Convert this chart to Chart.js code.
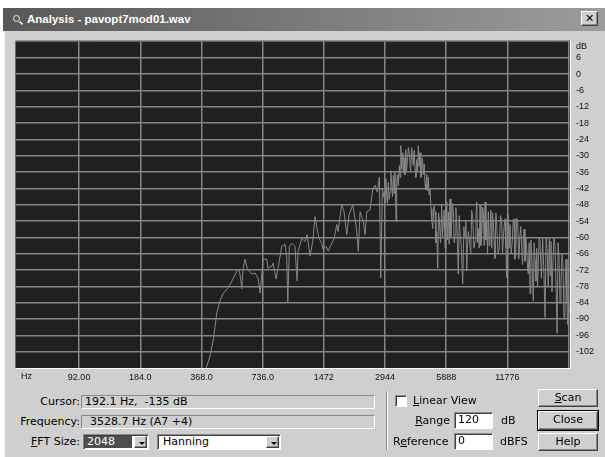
<!DOCTYPE html>
<html>
<head>
<meta charset="utf-8">
<title>Analysis - pavopt7mod01.wav</title>
<script src="https://cdn.jsdelivr.net/npm/chart.js@4/dist/chart.umd.min.js"></script>
<style>
    body {
        margin: 0;
        width: 605px;
        height: 457px;
        overflow: hidden;
        background: #fff;
        position: relative;
        font: 11px "DejaVu Sans", sans-serif;
        color: #000;
    }
    .abs { position: absolute; white-space: nowrap; }
    #win {
        position: absolute;
        left: 3px;
        top: 8px;
        width: 602px;
        height: 449px;
        background: #cfcfcf;
        border-left: 2px solid #f4f4f4;
    }
    #titlebar {
        position: absolute;
        left: 3px;
        top: 8px;
        width: 602px;
        height: 23px;
        background: linear-gradient(to right, #585858, #9c9c9c);
        color: #fff;
        font: bold 11.5px "Liberation Sans", Arial, sans-serif;
        line-height: 23px;
    }
    #titlebar .text { position: absolute; left: 24px; top: 0; }
    #titlebar .icon {
        position: absolute;
        left: 10px;
        top: 7px;
        width: 5px;
        height: 5px;
        border: 1.5px solid #e8e8e8;
        border-radius: 50%;
    }
    #titlebar .handle {
        position: absolute;
        left: 16px;
        top: 14px;
        width: 4px;
        height: 2px;
        background: #e8e8e8;
        transform: rotate(45deg);
    }
    .raised {
        background: #cfcfcf;
        border: 1px solid;
        border-color: #fff #404040 #404040 #fff;
        box-shadow: inset -1px -1px 0 #8a8a8a;
        box-sizing: border-box;
        text-align: center;
    }
    .sunken {
        border: 1px solid;
        border-color: #8a8a8a #fff #fff #8a8a8a;
        box-shadow: inset 1px 1px 0 #404040;
        box-sizing: border-box;
        background: #fff;
    }
    .static {
        border: 1px solid;
        border-color: #8a8a8a #fff #fff #8a8a8a;
        box-sizing: border-box;
        background: #cfcfcf;
        line-height: 12px;
    }
    .lbl { line-height: 14px; }
    .right { text-align: right; }
    u { text-decoration: underline; }
    .arrow {
        position: absolute;
        left: 4px;
        top: 5px;
        width: 0;
        height: 0;
        border-left: 3px solid transparent;
        border-right: 3px solid transparent;
        border-top: 3px solid #000;
    }
    #plot { position: absolute; left: 0; top: 30px; }
</style>
</head>
<body>
<div id="win"></div>
<div id="titlebar">
    <div class="icon"></div>
    <div class="handle"></div>
    <div class="text">Analysis - pavopt7mod01.wav</div>
    <div class="abs raised" style="left:578px;top:3px;width:17px;height:15px;color:#000;font:bold 11px 'DejaVu Sans';line-height:13px;">✕</div>
</div>

<canvas id="plot" width="605" height="360"></canvas>

<!-- readouts -->
<div class="abs lbl right" style="left:0;top:395px;width:80px;">Cursor:</div>
<div class="abs static" style="left:81px;top:395px;width:294px;height:14px;padding-left:3px;">192.1 Hz,&nbsp;&nbsp;-135 dB</div>
<div class="abs lbl right" style="left:0;top:415px;width:80px;">Frequency:</div>
<div class="abs static" style="left:81px;top:415px;width:294px;height:14px;padding-left:8px;">3528.7 Hz (A7 +4)</div>
<div class="abs lbl right" style="left:0;top:435px;width:80px;"><u>F</u>FT Size:</div>

<!-- FFT size combo -->
<div class="abs sunken" style="left:83px;top:434px;width:66px;height:16px;">
    <div class="abs" style="left:1px;top:1px;width:47px;height:12px;background:#4e4e4e;color:#fff;line-height:12px;padding-left:2px;box-sizing:border-box;">2048</div>
    <div class="abs raised" style="left:50px;top:1px;width:13px;height:12px;"><div class="arrow"></div></div>
</div>
<!-- window combo -->
<div class="abs sunken" style="left:157px;top:434px;width:124px;height:16px;">
    <div class="abs" style="left:5px;top:1px;line-height:12px;">Hanning</div>
    <div class="abs raised" style="left:108px;top:1px;width:13px;height:12px;"><div class="arrow"></div></div>
</div>

<!-- separator -->
<div class="abs" style="left:386px;top:391px;width:1px;height:59px;background:#8a8a8a;border-right:1px solid #fff;"></div>

<div class="abs sunken" style="left:395px;top:395px;width:12px;height:12px;"></div>
<div class="abs lbl" style="left:413px;top:394px;"><u>L</u>inear View</div>
<div class="abs lbl right" style="left:400px;top:414px;width:50px;"><u>R</u>ange</div>
<div class="abs sunken" style="left:454px;top:412px;width:39px;height:17px;line-height:14px;padding-left:3px;">120</div>
<div class="abs lbl" style="left:501px;top:414px;">dB</div>
<div class="abs lbl" style="left:393px;top:435px;">R<u>e</u>ference</div>
<div class="abs sunken" style="left:454px;top:433px;width:39px;height:17px;line-height:14px;padding-left:3px;">0</div>
<div class="abs lbl" style="left:500px;top:435px;">dBFS</div>

<!-- buttons -->
<div class="abs raised" style="left:538px;top:389px;width:60px;height:18px;line-height:15px;"><u>S</u>can</div>
<div class="abs raised" style="left:538px;top:411px;width:60px;height:19px;line-height:16px;outline:1px solid #000;">Close</div>
<div class="abs raised" style="left:538px;top:433px;width:60px;height:18px;line-height:15px;">Help</div>

<script>
// Spectrum of pavopt7mod01.wav, FFT 2048, Hanning window
const freqHz = [
    388, 405, 420, 429, 437, 454, 470, 497, 526, 549,
    563, 574, 581, 590, 603, 617, 651, 675, 698, 715,
    729, 739, 771, 782, 816, 828, 857, 876, 914, 949,
    967, 978, 996, 1023, 1062, 1086, 1099, 1147, 1189, 1217,
    1259, 1298, 1332, 1363, 1394, 1437, 1459, 1509, 1544, 1611,
    1653, 1704, 1728, 1803, 1850, 1908, 1958, 2041, 2096, 2136,
    2175, 2218, 2302, 2348, 2394, 2484, 2562, 2629, 2698, 2760,
    2804, 2856,
    2944, 2972, 3000, 3028, 3056, 3085, 3115, 3145, 3176, 3205,
    3235, 3266, 3297, 3335, 3360, 3385, 3420, 3462, 3490, 3518,
    3558, 3598, 3625, 3651, 3686, 3722, 3756, 3790, 3833, 3877,
    3930, 3983, 4020, 4056, 4095, 4135, 4175, 4216, 4254, 4292,
    4333, 4375, 4417, 4459, 4500, 4542, 4586, 4631, 4676, 4722,
    4765, 4808, 4854, 4900, 4957, 5005, 5053, 5120, 5187, 5237,
    5287, 5347, 5395, 5444, 5520, 5594, 5646, 5699, 5754, 5809,
    5865, 5921, 5975, 6030, 6090, 6147, 6207, 6267, 6325, 6383,
    6444, 6505, 6568, 6631, 6692, 6753, 6820, 6884, 6990, 7097,
    7190, 7285, 7355, 7426, 7490, 7561, 7665, 7770, 7860, 7951,
    8057, 8163, 8242, 8322, 8398, 8474, 8557, 8640, 8722, 8805,
    8885, 8966, 9052, 9139, 9227, 9315, 9400, 9485, 9576, 9667,
    9760, 9855, 9945, 10036, 10133, 10231, 10330, 10430, 10590, 10745,
    10890, 11040, 11140, 11240, 11350, 11463, 11575, 11685, 11790, 11896,
    12010, 12128, 12290, 12447, 12570, 12694, 12820, 12942, 13090, 13236,
    13400, 13578, 13710, 13849, 13970, 14096, 14230, 14367, 14510, 14649,
    14780, 14920, 15070, 15215, 15360, 15509, 15650, 15792, 15945, 16098,
    16260, 16416, 16560, 16710, 16870, 17040, 17300, 17558, 17790, 18029,
    18260, 18500, 18710, 18924, 19100, 19289, 19510, 19736, 19960, 20196,
    20430, 20667, 20900, 21138, 21370, 21610, 21860, 22115, 22360, 22605,
    22870, 23130, 23300, 23500, 23800
];

const levelDb = [
    -108, -103.8, -97.8, -92.9, -88, -83.3, -80.7, -78.5, -75.3, -72.4,
    -71.7, -75.3, -78.9, -71.3, -68, -71.3, -73.5, -73.1, -74.9, -80.4,
    -73.5, -68, -68, -71.3, -70.6, -69.5, -75.3, -71.3, -63.3, -62.6,
    -67.7, -84, -63.3, -62.2, -63.3, -76, -65.1, -60.4, -61.5, -59,
    -66.9, -61.5, -52.4, -56.8, -60.4, -62.2, -64.4, -63.3, -65.1, -62.2,
    -60.4, -55.3, -57.9, -47.7, -50.6, -59, -51.7, -48.1, -53.2, -57.9,
    -65.1, -50.6, -54.2, -59, -50.6, -49.9, -42.3, -40.8, -43.4, -37.9,
    -74.9, -42.3,
    -47, -38.5, -44.5, -47.5, -39.7, -46, -43.4, -35.5, -40.5, -45,
    -37.2, -44, -36.1, -54.2, -40, -36.9, -41, -33.6, -38, -26.3,
    -35, -28.9, -36.5, -30.7, -37, -27.8, -35.5, -32.5, -27, -28.9,
    -36, -27.1, -31, -33.6, -28, -35, -38, -31.4, -36, -26.3,
    -34, -28.9, -38, -36.1, -31, -36.9, -33, -40.5, -42.5, -36.9,
    -43, -37.9, -44.5, -42.3, -49.5, -54, -56.8, -48.5, -50.6, -62,
    -57.9, -71.3, -51, -53.2, -62, -48.1, -60, -54.2, -50, -64,
    -58, -47, -61, -50.6, -62.5, -45.9, -60, -54.2, -47.5, -50.6,
    -62, -59, -49, -54.2, -63, -73.5, -52, -57.9, -64, -77.1,
    -56, -60.4, -54, -72.4, -64, -57.9, -61, -66.2, -50, -53.2,
    -64, -61.5, -52, -47, -62, -56.8, -64, -48.1, -63, -59,
    -49, -50.6, -63, -47, -61, -54.2, -66, -50.6, -63, -57.9,
    -50, -64, -51, -54.2, -62, -67.7, -51, -55.3, -66, -64,
    -52, -54.2, -66, -60.4, -56, -53.2, -64, -74.9, -55, -51.7,
    -64, -55.3, -66, -61.5, -54, -53.2, -68, -65.1, -53, -54.2,
    -68, -59, -56, -64, -70, -61.5, -57, -68.8, -60, -64,
    -71, -73.5, -62, -80.7, -61, -66.2, -74, -83.3, -62, -68.8,
    -76, -64, -78, -70, -60, -61.5, -75, -60.4, -72, -89.4,
    -60, -66.2, -78, -60.4, -74, -61.5, -80, -68.8, -60, -63.3,
    -78, -95.2, -62, -66.9, -84, -76, -66, -70.6, -90, -80,
    -68, -84.3, -92, -83, -88
];

// octave grid, 92 Hz up to 23552 Hz
const octaveTicks = [92, 184, 368, 736, 1472, 2944, 5888, 11776, 23552];
const octaveLabels = ['92.00', '184.0', '368.0', '736.0', '1472', '2944', '5888', '11776', ''];
const dbTicks = [-102, -96, -90, -84, -78, -72, -66, -60, -54, -48, -42, -36, -30, -24, -18, -12, -6, 0, 6];

const tickFont = { family: '"Liberation Sans", Arial, sans-serif', size: 9 };

const plotBackground = {
    id: 'plotBackground',
    beforeDraw(chart) {
        const { ctx, chartArea: a } = chart;
        ctx.save();
        ctx.fillStyle = '#202020';
        ctx.fillRect(a.left, a.top, a.right - a.left, a.bottom - a.top);
        // sunken frame around the plot
        ctx.lineWidth = 1;
        ctx.strokeStyle = '#6a6a6a';
        ctx.beginPath();
        ctx.moveTo(a.left - 0.5, a.bottom);
        ctx.lineTo(a.left - 0.5, a.top - 0.5);
        ctx.lineTo(a.right, a.top - 0.5);
        ctx.stroke();
        ctx.strokeStyle = '#ffffff';
        ctx.beginPath();
        ctx.moveTo(a.right + 0.5, a.top);
        ctx.lineTo(a.right + 0.5, a.bottom + 0.5);
        ctx.lineTo(a.left, a.bottom + 0.5);
        ctx.stroke();
        ctx.restore();
    },
    afterDraw(chart) {
        const { ctx, chartArea: a } = chart;
        ctx.save();
        ctx.fillStyle = '#111';
        ctx.font = '9px "Liberation Sans", Arial, sans-serif';
        ctx.textBaseline = 'middle';
        ctx.textAlign = 'left';
        ctx.fillText('dB', a.right + 6, a.top + 5);
        ctx.fillText('Hz', a.left + 5, a.bottom + 9);
        ctx.restore();
    },
};

new Chart(document.getElementById('plot'), {
    type: 'line',
    data: {
        datasets: [
            {
                data: freqHz.map((f, i) => ({ x: f, y: levelDb[i] })),
                borderColor: '#888888',
                borderWidth: 1,
                pointRadius: 0,
                tension: 0,
            },
        ],
    },
    options: {
        responsive: false,
        animation: false,
        events: [],
        layout: { padding: { left: 16, top: 7, right: 0, bottom: 0 } },
        plugins: { legend: { display: false }, tooltip: { enabled: false } },
        scales: {
            x: {
                type: 'logarithmic',
                min: 45,
                max: 23930,
                afterBuildTicks: (scale) => {
                    scale.ticks = octaveTicks.map((v) => ({ value: v }));
                },
                afterFit: (scale) => {
                    scale.height = 22;
                },
                grid: { color: '#858585', lineWidth: 1.5, drawTicks: false },
                border: { display: false },
                ticks: {
                    autoSkip: false,
                    maxRotation: 0,
                    padding: 4,
                    color: '#111',
                    font: tickFont,
                    callback: (value, index) => octaveLabels[index],
                },
            },
            y: {
                position: 'right',
                min: -108,
                max: 12,
                afterBuildTicks: (scale) => {
                    scale.ticks = dbTicks.map((v) => ({ value: v }));
                },
                afterFit: (scale) => {
                    scale.width = 35;
                },
                grid: { color: '#858585', lineWidth: 1.5, drawTicks: false },
                border: { display: false },
                ticks: {
                    padding: 6,
                    color: '#111',
                    font: tickFont,
                    callback: (value) => String(value),
                },
            },
        },
    },
    plugins: [plotBackground],
});
</script>
</body>
</html>
